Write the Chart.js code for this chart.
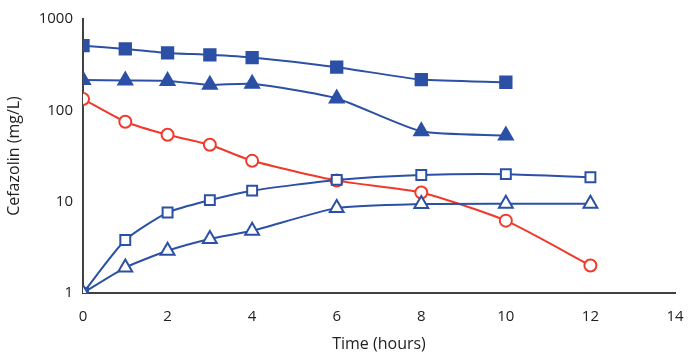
<!DOCTYPE html>
<html>
<head>
<meta charset="utf-8">
<script src="https://cdn.jsdelivr.net/npm/chart.js@4"></script>
<style>
  body { margin: 0; background: #fff; }
  #wrap { width: 689px; height: 360px; }
</style>
</head>
<body>
<div id="wrap"><canvas id="chart" width="689" height="360"></canvas></div>
<script>
// time points (hours)
var hoursLong = [0, 1, 2, 3, 4, 6, 8, 10, 12];
var hoursShort = [0, 1, 2, 3, 4, 6, 8, 10];

// concentrations (mg/L)
var filledSquare = [510, 470, 425, 405, 378, 297, 217, 203];
var filledTriangle = [215, 212, 210, 190, 195, 135, 59, 53];
var redCircle = [133, 75, 54, 42, 28, 17, 12.6, 6.2, 2.0];
var openSquare = [1, 3.8, 7.6, 10.4, 13.2, 17.3, 19.6, 20, 18.5];
var openTriangle = [1, 1.9, 2.9, 3.9, 4.8, 8.5, 9.4, 9.5, 9.5];

var yTicks = [1, 10, 100, 1000];

var blue = "#2B50A5";
var red = "#F0392B";
var axisColor = "#404040";
var textColor = "#222";

function points(xs, ys) {//pair up x and y values
	var out = [];
	for (var i = 0; i < ys.length; i++) {
		out.push({x: xs[i], y: ys[i]});
	}
	return out;
}

function series(data, style, color, filled, radius) {
	return {
		data: data,
		showLine: true,
		borderColor: color,
		borderWidth: 2,
		tension: 0.2,
		pointStyle: style,
		pointRadius: radius,
		pointHoverRadius: radius,
		pointBorderWidth: 2,
		pointBackgroundColor: filled ? color : "#fff",
		pointBorderColor: color
	};
}

var ctx = document.getElementById("chart").getContext("2d");

new Chart(ctx, {
	type: "scatter",
	data: {
		datasets: [
			series(points(hoursLong, openTriangle), "triangle", blue, false, 8),
			series(points(hoursLong, openSquare), "rect", blue, false, 7),
			series(points(hoursLong, redCircle), "circle", red, false, 6),
			series(points(hoursShort, filledTriangle), "triangle", blue, true, 8),
			series(points(hoursShort, filledSquare), "rect", blue, true, 8)
		]
	},
	options: {
		responsive: false,
		animation: false,
		layout: { padding: { left: 3, right: 14, top: 18, bottom: 1 } },
		plugins: {
			legend: { display: false },
			tooltip: { enabled: false }
		},
		scales: {
			x: {
				type: "linear",
				min: 0,
				max: 14,
				grid: { display: false, drawTicks: false },
				border: { color: axisColor, width: 2 },
				afterFit: function(scale) {//fix the space under the plot
					scale.height = 66;
					scale.paddingLeft = 0;
					scale.paddingRight = 0;
				},
				ticks: {
					stepSize: 2,
					padding: 16,
					color: textColor,
					font: { family: "Open Sans", size: 15, lineHeight: 1 }
				},
				title: {
					display: true,
					text: "Time (hours)",
					color: textColor,
					font: { family: "Open Sans", size: 16, lineHeight: 1 },
					padding: { top: 0, bottom: 7 }
				}
			},
			y: {
				type: "logarithmic",
				min: 1,
				max: 1000,
				grid: { display: false, drawTicks: false },
				border: { color: axisColor, width: 2 },
				afterFit: function(scale) {
					scale.width = 80;
				},
				afterBuildTicks: function(axis) {
					axis.ticks = yTicks.map(function(v){ return {value: v}; });
				},
				ticks: {
					padding: 10,
					color: textColor,
					font: { family: "Open Sans", size: 15 },
					callback: function(v) { return String(v); }
				},
				title: {
					display: true,
					text: "Cefazolin (mg/L)",
					color: textColor,
					font: { family: "Open Sans", size: 16 },
					padding: { top: 2, bottom: 2 }
				}
			}
		}
	}
});
</script>
</body>
</html>
